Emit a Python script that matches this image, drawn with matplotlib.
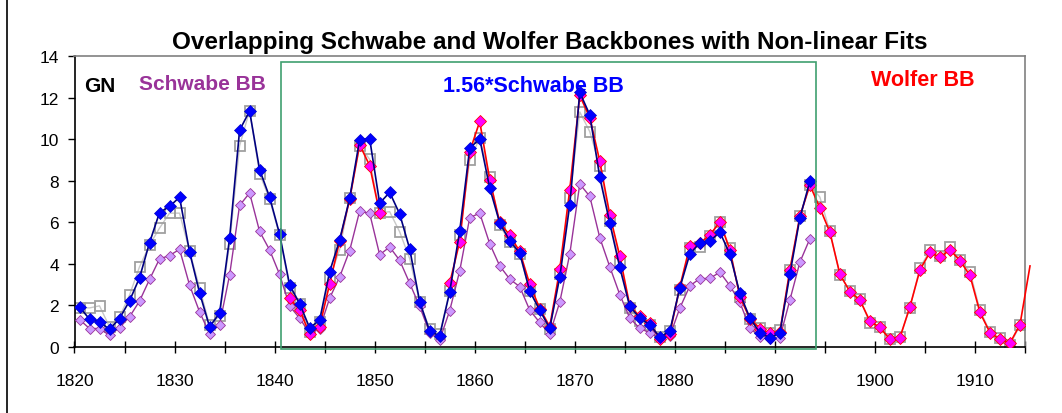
import numpy as np
import matplotlib
matplotlib.use("Agg")
import matplotlib.pyplot as plt
from matplotlib.patches import Rectangle
from matplotlib.lines import Line2D

plt.rcParams['font.family'] = ['Liberation Sans', 'DejaVu Sans']

# ---- data (annual values, plotted at mid-year) ----
schwabe_years = np.arange(1820, 1894)
schwabe_bb = [1.32, 0.89, 0.89, 0.56, 0.93, 1.45, 2.21, 3.25, 4.24, 4.40,
              4.70, 2.98, 1.69, 0.64, 1.08, 3.46, 6.81, 7.41, 5.56, 4.67,
              3.49, 1.97, 1.39, 0.66, 0.87, 2.35, 3.37, 4.64, 6.54, 6.43,
              4.44, 4.81, 4.17, 3.07, 1.95, 0.68, 0.34, 1.75, 3.66, 6.22,
              6.44, 4.97, 3.90, 3.27, 2.90, 1.77, 1.18, 0.62, 2.16, 4.47,
              7.84, 7.25, 5.26, 3.86, 2.52, 1.39, 0.90, 0.68, 0.42, 0.52,
              1.87, 2.94, 3.29, 3.30, 3.60, 2.95, 2.15, 0.92, 0.48, 0.37,
              0.44, 2.26, 4.08, 5.21]
schwabe_scaled = [1.93, 1.34, 1.21, 0.85, 1.37, 2.22, 3.33, 5.02, 6.47, 6.76,
                  7.21, 4.57, 2.61, 0.97, 1.63, 5.23, 10.43, 11.35, 8.53, 7.21,
                  5.43, 2.98, 2.09, 0.92, 1.29, 3.62, 5.15, 7.15, 9.98, 10.02,
                  6.92, 7.44, 6.40, 4.72, 2.18, 0.76, 0.54, 2.65, 5.58, 9.56,
                  10.02, 7.65, 5.97, 5.11, 4.52, 2.69, 1.77, 0.90, 3.37, 6.84,
                  12.25, 11.17, 8.17, 5.96, 3.83, 1.95, 1.39, 1.07, 0.47, 0.76,
                  2.86, 4.47, 5.02, 5.09, 5.53, 4.47, 2.58, 1.40, 0.68, 0.44,
                  0.68, 3.50, 6.21, 7.98]

wolfer_years = np.arange(1841, 1916)
wolfer_bb = [2.34, 1.78, 0.64, 0.98, 3.03, 5.10, 7.10, 9.73, 8.73, 6.43,
             np.nan, np.nan, np.nan, np.nan, np.nan, np.nan, 3.07, 5.07, 9.40,
             10.85, 8.05, 6.00, 5.37, 4.60, 3.02, 1.85, 0.98, 3.74, 7.57,
             12.10, 11.04, 8.94, 6.36, 4.37, 1.99, 1.47, 1.15, 0.40, 0.64,
             2.89, 4.86, 5.00, 5.38, 6.02, 4.68, 2.42, 1.37, 0.89, 0.65,
             0.70, 3.71, 6.29, 7.79, 6.69, 5.52, 3.50, 2.66, 2.26, 1.24,
             0.94, 0.37, 0.45, 1.94, 3.71, 4.56, 4.31, 4.68, 4.16, 3.44,
             1.66, 0.69, 0.37, 0.19, 1.08, 3.90]

gn_years = np.arange(1820, 1915)
gn = [1.90, 1.88, 1.98, 0.97, 1.45, 2.50, 3.86, 4.91, 5.72, 6.44,
      6.44, 4.62, 2.85, 1.05, 1.50, 4.97, 9.68, 11.37, 8.34, 7.10,
      5.37, 2.85, 2.05, 0.73, 1.18, 3.31, 4.68, 7.18, 9.68, 9.03,
      6.45, 6.51, 5.54, 4.25, 2.16, 0.87, 0.63, 2.69, 5.37, 8.98,
      10.05, 8.19, 5.85, 5.05, 4.47, 2.69, 1.81, 0.88, 3.49, 7.17,
      11.31, 10.36, 8.70, 6.07, 4.10, 1.87, 1.23, 1.07, 0.47, 0.79,
      2.73, 4.78, 4.79, 5.36, 6.02, 4.76, 2.42, 1.37, 0.92, 0.65,
      0.81, 3.71, 6.29, 7.79, 7.21, 5.56, 3.47, 2.69, 2.31, 1.15,
      0.97, 0.40, 0.48, 1.89, 3.82, 4.65, 4.40, 4.81, 4.19, 3.63,
      1.77, 0.73, 0.44, 0.11, 1.05]

labels = ["GN", "Schwabe BB", "1.56*Schwabe BB", "Wolfer BB"]
title = "Overlapping Schwabe and Wolfer Backbones with Non-linear Fits"

fig = plt.figure(figsize=(10.62, 4.14), dpi=100)
ax = fig.add_axes([74.5 / 1062, 1 - 348 / 414, (1025 - 74.5) / 1062, (348 - 57) / 414])

# GN fit (grey open squares)
ax.plot(gn_years + 0.5, gn, color='#c8c8c8', lw=1.0, marker='s', ms=7.5,
        mfc='none', mec='#a0a0a0', mew=1.3, zorder=2)
# Schwabe BB
ax.plot(schwabe_years + 0.5, schwabe_bb, color='#993399', lw=1.0, marker='D', ms=5.5,
        mfc='#cc99ff', mec='#993399', mew=0.6, zorder=3)
# Wolfer BB (last point is line only, runs a little past the plot edge)
wy = wolfer_years + 0.5
wline, = ax.plot(wy, wolfer_bb, color='#ff0000', lw=1.2, zorder=4)
wline.set_clip_path(Rectangle((0, -0.05), 1.007, 1.1, transform=ax.transAxes))
ax.plot(wy[:-1], wolfer_bb[:-1], ls='none', marker='D', ms=6,
        mfc='#ff00ff', mec='#ff0000', mew=0.6, zorder=4)
# 1.56*Schwabe BB
ax.plot(schwabe_years + 0.5, schwabe_scaled, color='#000080', lw=1.2, marker='D', ms=6.5,
        mfc='#0000ff', mec='#0000cc', mew=0.5, zorder=5)

ax.set_xlim(1820, 1915)
ax.set_ylim(0, 14)
ax.set_yticks(np.arange(0, 15, 2))
ax.set_xticks(np.arange(1820, 1911, 10))
ax.set_xticks(np.arange(1825, 1916, 5), minor=True)
ax.tick_params(axis='x', which='both', direction='inout', length=9, width=1, labelsize=12.5, pad=14)
ax.tick_params(axis='y', direction='out', length=5, width=1, labelsize=12.5, pad=6)

for s in ['top', 'right']:
    ax.spines[s].set_color('#808080')
    ax.spines[s].set_linewidth(1.2)
for s in ['left', 'bottom']:
    ax.spines[s].set_color('black')
    ax.spines[s].set_linewidth(1.2)

# green box marking the overlap period
ax.add_patch(Rectangle((1840.65, -0.1), 53.5, 13.8, fill=False, ec='#3f9f6f',
                       lw=1.2, clip_on=False, zorder=6))

ax.set_title(title, fontsize=17.5, fontweight='bold', pad=6)

ax.text(1821.0, 12.6, labels[0], fontsize=15, fontweight='bold', color='black', va='center')
ax.text(1826.4, 12.7, labels[1], fontsize=15, fontweight='bold', color='#993399', va='center')
ax.text(1856.8, 12.6, labels[2], fontsize=15.5, fontweight='bold', color='#0000ff', va='center')
ax.text(1899.6, 12.85, labels[3], fontsize=15.5, fontweight='bold', color='#ff0000', va='center')

# outer chart border on the left
fig.add_artist(Line2D([7 / 1062, 7 / 1062], [0, 1], color='black', lw=1.2))

fig.savefig("out.png", dpi=100)
